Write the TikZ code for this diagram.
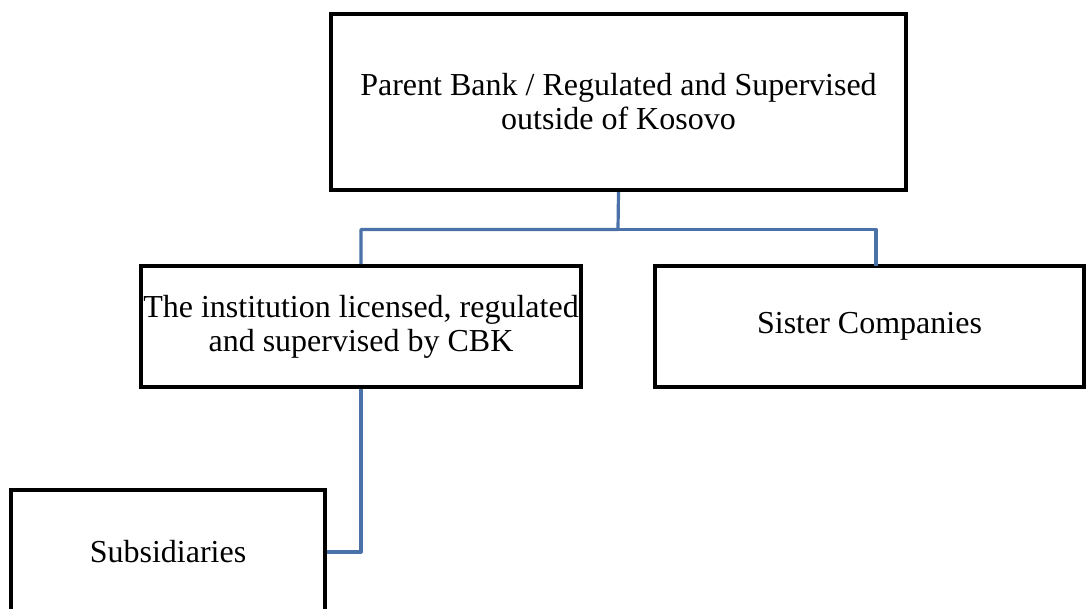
\documentclass[tikz,border=0pt]{standalone}
\usepackage{fontspec}
\setmainfont{Liberation Serif}
\begin{document}
\begin{tikzpicture}[x=1pt,y=-1pt,
  box/.style={draw=black,line width=4pt,fill=white,align=center,inner sep=0pt,
    font=\fontsize{32}{34}\selectfont},
  link/.style={draw=linkblue,line width=3.2pt,line join=round}]
\definecolor{linkblue}{HTML}{4A72A8}
\useasboundingbox (0,0) rectangle (1086,608);

\node[box,minimum width=575pt,minimum height=176pt] (parent) at (618.5,102) {Parent Bank / Regulated and Supervised\\outside of Kosovo};
\node[box,minimum width=440pt,minimum height=121pt] (inst) at (361,326.5) {The institution licensed, regulated\\and supervised by CBK};
\node[box,minimum width=429pt,minimum height=121pt] (sister) at (869.5,326.5) {Sister Companies};
\node[box,minimum width=314pt,minimum height=124pt] (subs) at (168,552) {Subsidiaries};

\coordinate (bus) at (618,229.5);
\coordinate (sistertop) at (876,266);
\draw[link] (parent.south) -- (bus) -| (inst.north);
\draw[link] (bus) -| (sistertop);
\draw[link] (inst.south) |- (subs.east);
\end{tikzpicture}
\end{document}
